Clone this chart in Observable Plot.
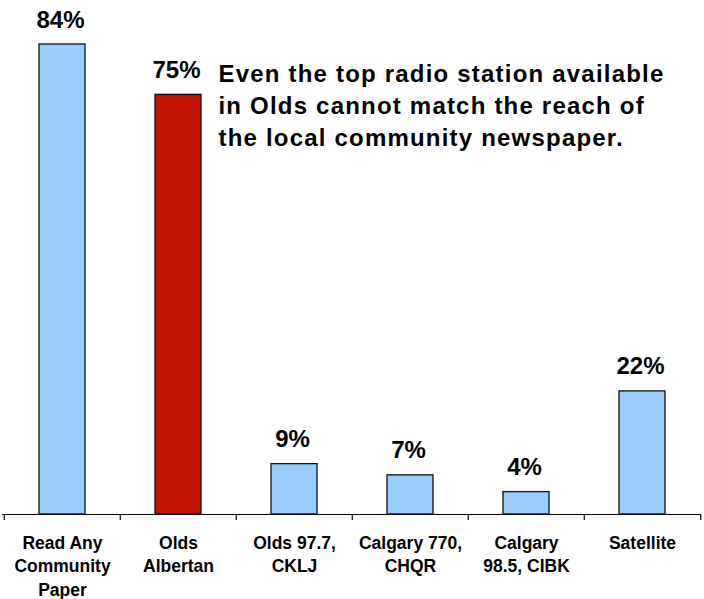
<!DOCTYPE html>
<html>
<head>
<meta charset="utf-8">
<script src="https://cdn.jsdelivr.net/npm/d3@7"></script>
<script src="https://cdn.jsdelivr.net/npm/@observablehq/plot@0.6"></script>
<style>
  html, body { margin: 0; padding: 0; background: #fff; }
</style>
</head>
<body>
<div id="chart"></div>
<script>
const categories = [
  "Read Any\nCommunity\nPaper",
  "Olds\nAlbertan",
  "Olds 97.7,\nCKLJ",
  "Calgary 770,\nCHQR",
  "Calgary\n98.5, CIBK",
  "Satellite"
];
const values = [84, 75, 9, 7, 4, 22];
const highlight = [false, true, false, false, false, false];
const annotation = "Even the top radio station available\nin Olds cannot match the reach of\nthe local community newspaper.";

const data = categories.map((c, i) => ({category: c, value: values[i], highlight: highlight[i]}));

const W = 704, H = 599, mL = 2, mR = 3, mT = 44, mB = 85;
const step = (W - mL - mR) / categories.length;

const chart = Plot.plot({
  width: W,
  height: H,
  marginTop: mT,
  marginBottom: mB,
  marginLeft: mL,
  marginRight: mR,
  style: {fontFamily: "'Liberation Sans', Arial, sans-serif", background: "#fff", color: "#000"},
  x: {domain: categories, padding: 0, axis: null},
  y: {domain: [0, 84], axis: null},
  marks: [
    Plot.barY(data, {
      x: "category", y: "value",
      fill: d => d.highlight ? "#C01400" : "#99CCFF",
      stroke: "#111", strokeWidth: 1.3,
      insetLeft: 35, insetRight: 35
    }),
    Plot.ruleY([0], {stroke: "#000", strokeWidth: 1.2}),
    Plot.ruleX(categories, {x: d => d, y1: 0, y2: 0, insetBottom: -6, dx: -step / 2, stroke: "#000", strokeWidth: 1.2}),
    Plot.ruleX(categories.slice(-1), {x: d => d, y1: 0, y2: 0, insetBottom: -6, dx: step / 2, stroke: "#000", strokeWidth: 1.2}),
    Plot.text(data, {
      x: "category", y: "value",
      text: d => d.value + "%",
      lineAnchor: "bottom", dy: -17, dx: -2,
      fontSize: 24, fontWeight: "bold", fill: "#000"
    }),
    Plot.axisX({
      domain: categories,
      label: null,
      tickSize: 0, tickPadding: 17,
      fontSize: 17.5, fontWeight: "bold", lineHeight: 1.37,
      fill: "#000"
    }),
    Plot.text([annotation], {
      frameAnchor: "top-left", textAnchor: "start", lineAnchor: "top",
      dx: 216, dy: 15, fontSize: 24, fontWeight: "bold", lineHeight: 1.333,
      fill: "#000"
    })
  ]
});
d3.select(chart).selectAll("text")
  .filter(function() { return this.textContent.startsWith("Even"); })
  .style("letter-spacing", "1.2px");
document.getElementById("chart").appendChild(chart);
</script>
</body>
</html>
